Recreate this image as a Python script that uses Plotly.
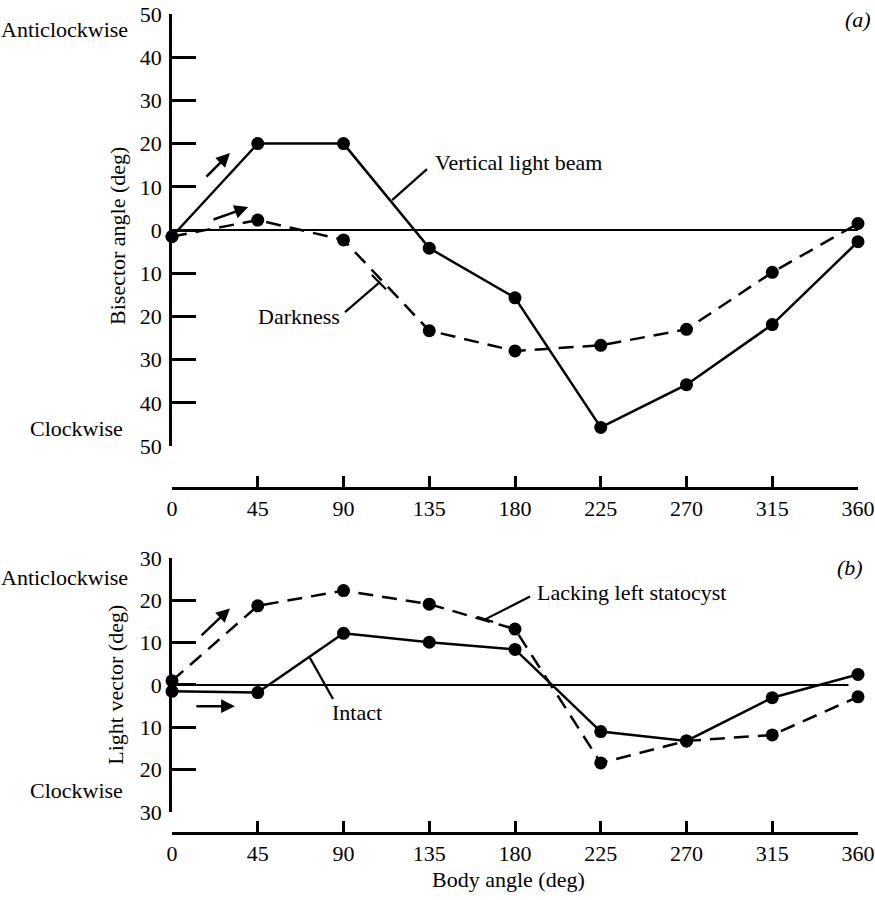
import plotly.graph_objects as go

# ---------------- data ----------------
body_angle = [0, 45, 90, 135, 180, 225, 270, 315, 360]

# panel (a): bisector angle (deg); positive = anticlockwise
vertical_light_beam = [-1.5, 20, 20, -4.2, -15.7, -45.7, -35.8, -21.9, -2.7]
darkness = [-1.5, 2.3, -2.3, -23.3, -28.0, -26.7, -23.0, -9.8, 1.5]

# panel (b): light vector (deg)
intact = [-1.5, -1.8, 12.2, 10.1, 8.4, -11.0, -13.2, -3.0, 2.5]
lacking_left_statocyst = [1.0, 18.7, 22.3, 19.1, 13.2, -18.4, -13.2, -11.8, -2.8]

x_ticks = [0, 45, 90, 135, 180, 225, 270, 315, 360]
ya_ticks = [-50, -40, -30, -20, -10, 0, 10, 20, 30, 40, 50]
yb_ticks = [-30, -20, -10, 0, 10, 20, 30]

FONT = "Liberation Serif"
FS = 22
LW = 2.5
MS = 13

fig = go.Figure()

def add_series(x, y, dash, xa, ya):
    fig.add_trace(go.Scatter(
        x=x, y=y, mode="lines+markers", xaxis=xa, yaxis=ya,
        line=dict(color="black", width=LW, dash=dash),
        marker=dict(color="black", size=MS),
        cliponaxis=False, showlegend=False, hoverinfo="skip"))

add_series(body_angle, vertical_light_beam, "solid", "x", "y")
add_series(body_angle, darkness, "15px,9px", "x", "y")
add_series(body_angle, intact, "solid", "x2", "y2")
add_series(body_angle, lacking_left_statocyst, "15px,9px", "x2", "y2")

tickfont = dict(family=FONT, size=FS, color="black")

def xaxis(position):
    return dict(domain=[0, 1], range=[0, 360], anchor="free", position=position,
                showline=True, linewidth=LW, linecolor="black",
                ticks="inside", ticklen=11, tickwidth=LW, tickcolor="black",
                tickvals=x_ticks, ticktext=[str(v) for v in x_ticks],
                showgrid=False, zeroline=False, tickfont=tickfont,
                automargin=False)

def yaxis(domain, rng, ticks, anchor):
    return dict(domain=domain, range=rng, anchor=anchor,
                showline=True, linewidth=LW, linecolor="black",
                ticks="inside", ticklen=24, tickwidth=LW, tickcolor="black",
                tickvals=ticks, ticktext=[str(abs(v)) for v in ticks],
                showgrid=False, zeroline=False, tickfont=tickfont,
                ticklabelstandoff=3, automargin=False)

fig.update_layout(
    width=875, height=900, autosize=False,
    margin=dict(l=172, r=17, t=14, b=67, pad=0),
    paper_bgcolor="white", plot_bgcolor="white",
    font=dict(family=FONT, size=FS, color="black"),
    xaxis=xaxis(0.42125),
    yaxis=yaxis([0.47253, 1.0], [-50, 50], ya_ticks, "x"),
    xaxis2=xaxis(0.0),
    yaxis2=yaxis([0.02564, 0.33578], [-30, 30], yb_ticks, "x2"),
)

# zero lines
fig.add_shape(type="line", xref="x", yref="y", x0=0, x1=360, y0=0, y1=0,
              line=dict(color="black", width=2))
fig.add_shape(type="line", xref="x2", yref="y2", x0=0, x1=355, y0=0, y1=0,
              line=dict(color="black", width=2))

# leader lines
def seg(xr, yr, x0, y0, x1, y1):
    fig.add_shape(type="line", xref=xr, yref=yr, x0=x0, y0=y0, x1=x1, y1=y1,
                  line=dict(color="black", width=2.2))

seg("x", "y", 133.8, 14.1, 115.5, 6.9)          # Vertical light beam
seg("x", "y", 90.8, -19.0, 109.2, -12.0)        # Darkness
seg("x", "y", 104.9, -10.4, 112.3, -13.7)
seg("x2", "y2", 187.9, 20.9, 164.3, 15.5)       # Lacking left statocyst
seg("x2", "y2", 160.1, 16.1, 168.5, 14.9)
seg("x2", "y2", 84.5, -3.3, 72.4, 6.4)          # Intact

def label(xr, yr, x, y, text, xanchor="left"):
    fig.add_annotation(xref=xr, yref=yr, x=x, y=y, text=text, showarrow=False,
                       xanchor=xanchor, yanchor="middle",
                       font=dict(family=FONT, size=FS, color="black"))

label("x", "y", 137, 15.7, "Vertical light beam")
label("x", "y", 89.2, -20.1, "Darkness", "right")
label("x2", "y2", 190.5, 21.8, "Lacking left statocyst")
label("x2", "y2", 82.9, -6.6, "Intact")

# direction arrows
def arrow(xr, yr, x0, y0, x1, y1):
    fig.add_annotation(xref=xr, yref=yr, axref=xr, ayref=yr,
                       x=x1, y=y1, ax=x0, ay=y0, text="", showarrow=True,
                       arrowhead=2, arrowsize=1.1, arrowwidth=2.5, arrowcolor="black")

arrow("x", "y", 17.3, 12.0, 30.4, 17.8)
arrow("x", "y", 21.0, 2.3, 40.0, 5.3)
arrow("x2", "y2", 14.7, 11.4, 30.4, 18.1)
arrow("x2", "y2", 12.0, -5.0, 33.0, -5.0)

# side texts (paper coordinates)
def ptext(x, y, text, xanchor="right", angle=0, italic=False):
    fig.add_annotation(xref="paper", yref="paper", x=x, y=y, text=text,
                       showarrow=False, xanchor=xanchor, yanchor="middle",
                       textangle=angle,
                       font=dict(family=FONT, size=FS, color="black",
                                 style="italic" if italic else "normal"))

ptext(-0.0612, 0.9805, "Anticlockwise")
ptext(-0.0685, 0.4945, "Clockwise")
ptext(-0.0612, 0.3114, "Anticlockwise")
ptext(-0.0685, 0.0513, "Clockwise")
ptext(-0.0787, 0.729, "Bisector angle (deg)", "center", -90)
ptext(-0.0816, 0.181, "Light vector (deg)", "center", -90)
ptext(1.0, 0.9927, "(a)", "center", italic=True)
ptext(0.988, 0.3236, "(b)", "center", italic=True)

fig.add_annotation(xref="paper", yref="paper", x=0.4898, y=-0.057,
                   text="Body angle (deg)", showarrow=False,
                   xanchor="center", yanchor="middle",
                   font=dict(family=FONT, size=FS, color="black"))

fig.write_html("out.html", config={"displayModeBar": False},
               post_script="document.body.style.margin='0px';document.body.style.padding='0px';")
